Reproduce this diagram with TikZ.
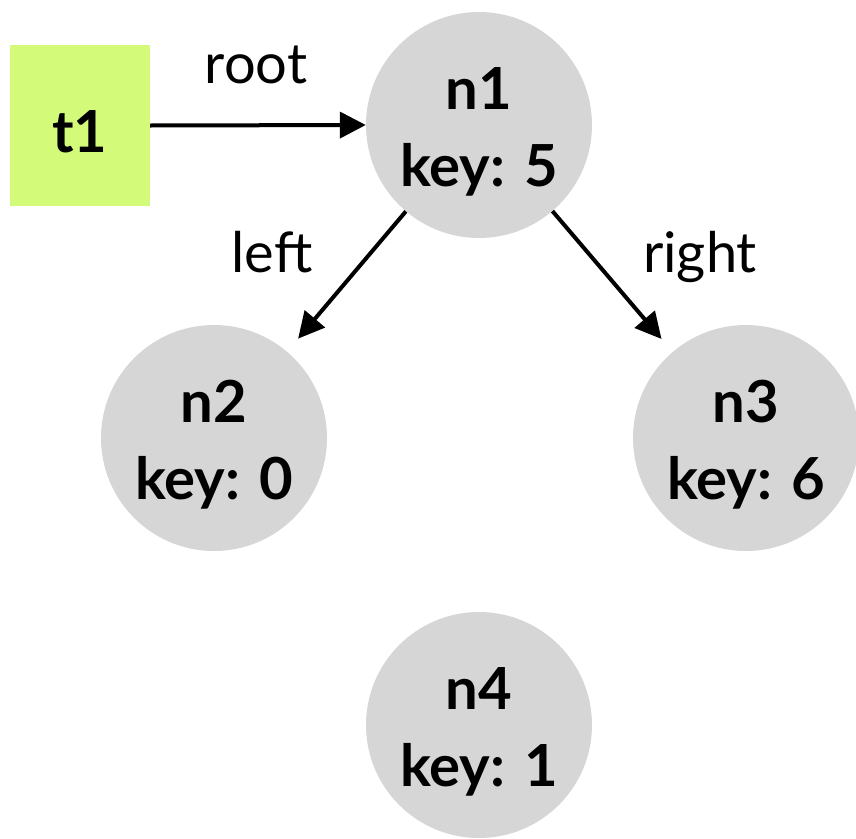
\documentclass[tikz,border=0pt]{standalone}
\usepackage{fontspec}
\setmainfont{Lato}
\usetikzlibrary{arrows.meta}
\definecolor{boxgreen}{RGB}{212,250,122}
\definecolor{nodegray}{RGB}{214,214,214}
\newcommand\twoline[2]{\rule{0pt}{58pt}#1\\\rule[-13pt]{0pt}{13pt}#2}
\tikzset{
  treenode/.style={circle, fill=nodegray, minimum size=226pt, inner sep=0pt, align=center,
    font=\fontsize{58}{77}\selectfont\bfseries},
  tbox/.style={rectangle, fill=boxgreen, minimum width=140pt, minimum height=161pt, inner sep=0pt,
    text height=53pt, text depth=0pt, font=\fontsize{58}{77}\selectfont\bfseries},
  link/.style={line width=4pt, -{Triangle[length=26pt,width=26pt]}},
  lbl/.style={font=\fontsize{56}{60}\selectfont, inner sep=0pt, anchor=base}
}
\begin{document}
\begin{tikzpicture}[x=1pt,y=-1pt]
\useasboundingbox (0,0) rectangle (856,838);
\node[tbox] (t1) at (80,125.5) {t1};
\node[treenode] (n1) at (479,125) {\twoline{n1}{key: 5}};
\node[treenode] (n2) at (214,438) {\twoline{n2}{key: 0}};
\node[treenode] (n3) at (746,438) {\twoline{n3}{key: 6}};
\node[treenode] (n4) at (479,725) {\twoline{n4}{key: 1}};
\draw[link] (t1.east) -- (n1.west);
\draw[link, shorten >=17pt] (n1) -- (n2);
\draw[link, shorten >=17pt] (n1) -- (n3);
\node[lbl] (lroot) at (256,83) {root};
\node[lbl] (lleft) at (272,272) {left};
\node[lbl] (lright) at (700,272) {right};
\end{tikzpicture}
\end{document}
